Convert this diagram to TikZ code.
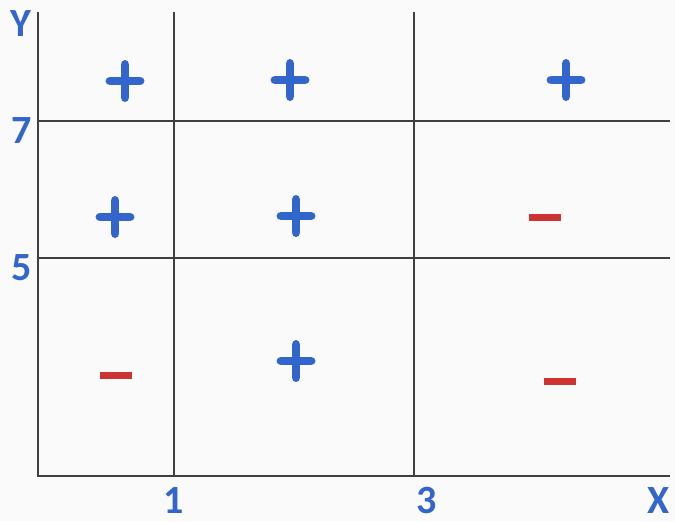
\documentclass[tikz,border=0pt]{standalone}
\usepackage{fontspec}
\setmainfont{Carlito}
\usetikzlibrary{positioning}
\definecolor{bgcol}{HTML}{FAFAFA}
\definecolor{gridcol}{HTML}{404040}
\definecolor{pluscol}{HTML}{3366CC}
\definecolor{minuscol}{HTML}{CC3333}
\tikzset{
  gridline/.style={gridcol, line width=1.1pt},
  axislabel/.style={pluscol, font=\fontsize{22.8}{27}\selectfont\bfseries, inner sep=0pt},
  plussign/.style={pluscol, line width=5.1pt, line cap=round},
  minussign/.style={fill=minuscol, draw=none}
}

\begin{document}
\begin{tikzpicture}[x=0.02cm, y=-0.02cm]
  % background and size
  \fill[bgcol] (0,0) rectangle (675,521);
  \useasboundingbox (0,0) rectangle (675,521);

  % axes
  \draw[gridline] (38,12) -- (38,476) -- (670,476);

  % split lines
  \draw[gridline] (38,121) -- (670,121);
  \draw[gridline] (38,258) -- (670,258);
  \draw[gridline] (174,12) -- (174,476);
  \draw[gridline] (414,12) -- (414,476);

  % labels
  \node[axislabel] (ylab) at (21,24) {Y};
  \node[axislabel] (seven) at (22,131) {7};
  \node[axislabel] (five) at (22,268) {5};
  \node[axislabel] (one) at (174,500) {1};
  \node[axislabel] (three) at (427,500) {3};
  \node[axislabel] (xlab) at (659,500) {X};

  % plus signs
  \foreach \px/\py in {125/81, 290/80, 566/80, 115/217, 296/216, 296/361}
    \draw[plussign] (\px-15,\py) -- (\px+15,\py) (\px,\py-16.5) -- (\px,\py+16.5);

  % minus signs
  \foreach \mx/\my in {116/375, 545/217, 560/381}
    \fill[minussign] (\mx-16,\my-3.5) rectangle (\mx+16,\my+3.5);
\end{tikzpicture}
\end{document}
